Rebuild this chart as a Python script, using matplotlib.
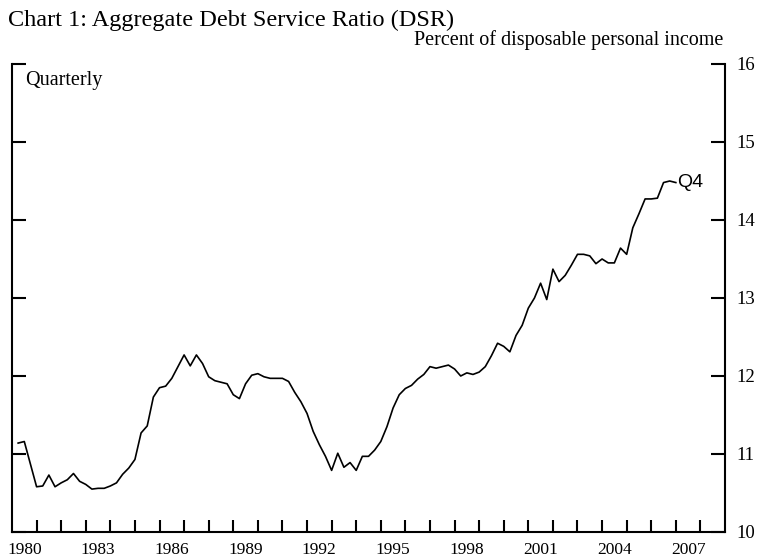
import matplotlib
matplotlib.use("Agg")
import matplotlib.pyplot as plt
from matplotlib.ticker import FixedLocator, NullFormatter

# Aggregate debt service ratio, quarterly 1980Q1 - 2006Q4
years = list(range(1980, 2007))
dsr = [
    11.14, 11.16, 10.87, 10.58,  # 1980
    10.59, 10.73, 10.58, 10.63,  # 1981
    10.67, 10.75, 10.65, 10.61,  # 1982
    10.55, 10.56, 10.56, 10.59,  # 1983
    10.63, 10.74, 10.82, 10.93,  # 1984
    11.27, 11.36, 11.73, 11.85,  # 1985
    11.87, 11.97, 12.12, 12.27,  # 1986
    12.13, 12.27, 12.16, 11.99,  # 1987
    11.94, 11.92, 11.90, 11.76,  # 1988
    11.71, 11.90, 12.01, 12.03,  # 1989
    11.99, 11.97, 11.97, 11.97,  # 1990
    11.93, 11.79, 11.67, 11.52,  # 1991
    11.29, 11.12, 10.97, 10.79,  # 1992
    11.01, 10.83, 10.89, 10.79,  # 1993
    10.97, 10.97, 11.05, 11.16,  # 1994
    11.35, 11.59, 11.76, 11.84,  # 1995
    11.88, 11.96, 12.02, 12.12,  # 1996
    12.10, 12.12, 12.14, 12.09,  # 1997
    12.00, 12.04, 12.02, 12.05,  # 1998
    12.12, 12.26, 12.42, 12.38,  # 1999
    12.31, 12.52, 12.65, 12.87,  # 2000
    13.00, 13.19, 12.98, 13.37,  # 2001
    13.21, 13.29, 13.42, 13.56,  # 2002
    13.56, 13.54, 13.44, 13.50,  # 2003
    13.45, 13.45, 13.64, 13.56,  # 2004
    13.90, 14.08, 14.27, 14.27,  # 2005
    14.28, 14.48, 14.50, 14.48,  # 2006
]
# quarters plotted at the end of each quarter
dates = [y + q / 4 for y in years for q in range(1, 5)]

x_labels = [str(y) for y in range(1980, 2008, 3)]
y_ticks = [10, 11, 12, 13, 14, 15, 16]

serif = "Liberation Serif"

fig = plt.figure(figsize=(7.58, 5.58), dpi=100)
ax = fig.add_axes([12 / 758, 1 - 532 / 558, 713 / 758, 468 / 558])

ax.plot(dates, dsr, color="black", linewidth=1.2)
ax.text(dates[-1] + 0.06, dsr[-1], "Q4", family="Liberation Sans",
        fontsize=14, va="center", ha="left")

ax.set_xlim(1980, 2009)
ax.set_ylim(10, 16)

ax.spines["top"].set_visible(False)
for s in ["left", "right", "bottom"]:
    ax.spines[s].set_linewidth(1.5)

# year ticks on the axis, labels centred within the year
ax.xaxis.set_major_locator(FixedLocator(range(1981, 2009)))
ax.xaxis.set_major_formatter(NullFormatter())
ax.xaxis.set_minor_locator(FixedLocator([int(s) + 0.5 for s in x_labels]))
ax.set_xticklabels(x_labels, minor=True, family=serif, fontsize=12.5)
ax.tick_params(axis="x", which="major", direction="in", length=9, width=1.5)
ax.tick_params(axis="x", which="minor", length=0, pad=7)

ax.set_yticks(y_ticks)
ax.set_yticklabels([str(v) for v in y_ticks], family=serif, fontsize=13.5)
ax.tick_params(axis="y", direction="in", length=10, width=1.5,
               left=True, right=True, labelleft=False, labelright=True, pad=8)

fig.text(8 / 758, 1 - 20 / 558, "Chart 1: Aggregate Debt Service Ratio (DSR)",
         family=serif, fontsize=17.5, va="center", ha="left")
fig.text(723 / 758, 1 - 40 / 558, "Percent of disposable personal income",
         family=serif, fontsize=14.5, va="center", ha="right")
ax.text(25 / 758, 1 - 80 / 558, "Quarterly", transform=fig.transFigure,
        family=serif, fontsize=14.5, va="center", ha="left")

fig.savefig("out.png", dpi=100)
